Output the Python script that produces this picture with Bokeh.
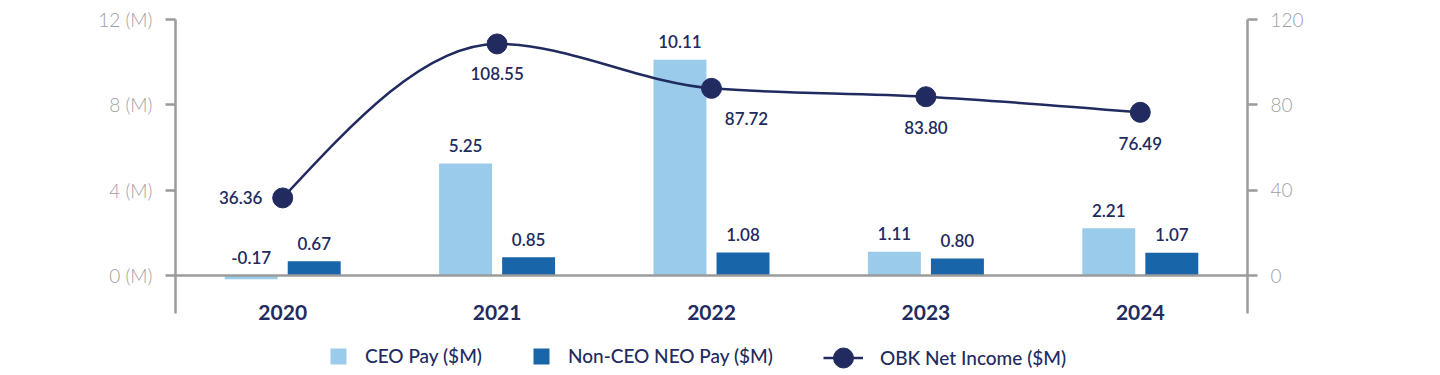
from bokeh.plotting import figure
from bokeh.models import (Range1d, FactorRange, LinearAxis, FixedTicker,
                          PrintfTickFormatter, Span, Legend, LegendItem,
                          ColumnDataSource)
from bokeh.transform import dodge
from bokeh.core.properties import value
from bokeh.embed import file_html
from bokeh.resources import INLINE

# ---------------- data ----------------
years = ["2020", "2021", "2022", "2023", "2024"]
ceo_pay = [-0.17, 5.25, 10.11, 1.11, 2.21]
neo_pay = [0.67, 0.85, 1.08, 0.80, 1.07]
net_income = [36.36, 108.55, 87.72, 83.80, 76.49]
left_ticks = [0, 4, 8, 12]
right_ticks = [0, 40, 80, 120]

# ---------------- style ----------------
NAVY = "#222b5f"
LIGHT = "#9bcbeb"
DARK = "#1865a9"
GRAY = "#9b9b9b"
TICK_TXT = "#a0a0a0"
FONT = "Lato"

# geometry (pixels)
FRAME_H = 356
PXU = 256 / 12.0             # px per (M)
Y_BOTTOM = -(FRAME_H - 256) / PXU
AXIS_BOTTOM = -38 / PXU
CAT_Y = -36.7 / PXU
RATIO = 10.0                 # right axis / left axis
BAR_OFF = 0.147
BAR_W = 0.247

# label offsets for the income points (px)
inc_dx = [-42, 0, 35, 0, 0]
inc_dy = [0, 30, 30, 31, 31]

p = figure(width=1432, height=375,
           x_range=FactorRange(factors=years, range_padding=0),
           y_range=Range1d(Y_BOTTOM, 12),
           x_axis_location=None, y_axis_location="left",
           output_backend="svg", toolbar_location=None,
           min_border_left=175, min_border_right=185,
           min_border_top=19, min_border_bottom=0)
p.extra_y_ranges = {"right": Range1d(Y_BOTTOM * RATIO, 12 * RATIO)}
p.outline_line_color = None
p.grid.grid_line_color = None
p.background_fill_color = "white"


def style_axis(ax, ticks, bounds):
    ax.ticker = FixedTicker(ticks=ticks)
    ax.bounds = bounds
    ax.axis_line_color = GRAY
    ax.axis_line_width = 2.5
    ax.major_tick_line_color = GRAY
    ax.major_tick_line_width = 2.5
    ax.major_tick_out = 10
    ax.major_tick_in = 0
    ax.minor_tick_line_color = None
    ax.major_label_text_color = TICK_TXT
    ax.major_label_text_font = "Lato Light"
    ax.major_label_text_font_size = "19px"
    ax.major_label_standoff = 13


lax = p.yaxis[0]
style_axis(lax, left_ticks, (AXIS_BOTTOM, 12))
lax.formatter = PrintfTickFormatter(format="%d (M)")

rax = LinearAxis(y_range_name="right")
style_axis(rax, right_ticks, (AXIS_BOTTOM * RATIO, 12 * RATIO))
p.add_layout(rax, "right")

p.add_layout(Span(location=0, dimension="width", line_color=GRAY,
                  line_width=2.5))

# ---------------- bars ----------------
src = ColumnDataSource(dict(
    year=years, ceo=ceo_pay, neo=neo_pay,
    ceo_ly=[max(v, 0) for v in ceo_pay],
    neo_ly=[max(v, 0) for v in neo_pay],
    ceo_t=["%.2f" % v for v in ceo_pay],
    neo_t=["%.2f" % v for v in neo_pay],
))
r_ceo = p.vbar(x=dodge("year", -BAR_OFF, range=p.x_range), top="ceo",
               width=BAR_W, fill_color=LIGHT, line_color=None, source=src)
r_neo = p.vbar(x=dodge("year", BAR_OFF, range=p.x_range), top="neo",
               width=BAR_W, fill_color=DARK, line_color=None, source=src)

LBL_FONT = value("Lato Semibold")
for xo, yc, tc in [(-BAR_OFF, "ceo_ly", "ceo_t"), (BAR_OFF, "neo_ly", "neo_t")]:
    p.text(x=dodge("year", xo, range=p.x_range), y=yc, text=tc, source=src,
           text_align="center", text_baseline="middle", y_offset=-18,
           text_font=LBL_FONT, text_font_size="17px", text_color=NAVY)

# category labels
p.text(x=years, y=[CAT_Y] * len(years), text=years,
       text_align="center", text_baseline="middle",
       text_font=value(FONT), text_font_style="bold",
       text_font_size="21px", text_color=NAVY)

# ---------------- smooth income line (monotone-x cubic) ----------------
def sign(v):
    return (v > 0) - (v < 0)


n = len(net_income)
s = [net_income[i + 1] - net_income[i] for i in range(n - 1)]
tan = [0.0] * n
for i in range(1, n - 1):
    s0, s1 = s[i - 1], s[i]
    pm = (s0 + s1) / 2
    tan[i] = (sign(s0) + sign(s1)) * min(abs(s0), abs(s1), 0.5 * abs(pm))
tan[0] = (3 * s[0] - tan[1]) / 2
tan[-1] = (3 * s[-1] - tan[-2]) / 2

bz = ColumnDataSource(dict(
    xa=years[:-1], xb=years[1:],
    ya=net_income[:-1], yb=net_income[1:],
    ca=[net_income[i] + tan[i] / 3 for i in range(n - 1)],
    cb=[net_income[i + 1] - tan[i + 1] / 3 for i in range(n - 1)],
))
p.bezier(x0="xa", y0="ya", x1="xb", y1="yb",
         cx0=dodge("xa", 1 / 3, range=p.x_range), cy0="ca",
         cx1=dodge("xb", -1 / 3, range=p.x_range), cy1="cb",
         line_color=NAVY, line_width=2.5, source=bz, y_range_name="right")

isrc = ColumnDataSource(dict(year=years, inc=net_income,
                             t=["%.2f" % v for v in net_income],
                             dx=inc_dx, dy=inc_dy))
r_pts = p.ellipse(x="year", y="inc", width=20, height=20,
                  width_units="screen", height_units="screen",
                  fill_color=NAVY, line_color=NAVY, source=isrc,
                  y_range_name="right")
p.text(x="year", y="inc", text="t", x_offset="dx", y_offset="dy",
       source=isrc, y_range_name="right",
       text_align="center", text_baseline="middle",
       text_font=LBL_FONT, text_font_size="17px", text_color=NAVY)

# legend proxy for the line (single point -> draws nothing in the plot)
r_lproxy = p.line(x=years[:1], y=net_income[:1], line_color=NAVY,
                  line_width=2.5, y_range_name="right")

common = dict(orientation="horizontal", padding=0, margin=0,
              border_line_color=None, background_fill_alpha=0,
              label_text_font="Lato Medium", label_text_font_size="19px",
              label_text_color=NAVY, label_standoff=17)
leg1 = Legend(items=[LegendItem(label="CEO Pay ($M)", renderers=[r_ceo]),
                     LegendItem(label="Non-CEO NEO Pay ($M)", renderers=[r_neo])],
              location=(153, 8), glyph_width=20, glyph_height=20,
              spacing=49, **common)
leg2 = Legend(items=[LegendItem(label="OBK Net Income ($M)",
                                renderers=[r_lproxy, r_pts])],
              location=(648, 5), glyph_width=40, glyph_height=25, **common)
p.add_layout(leg1)
p.add_layout(leg2)

open("out.html", "w").write(file_html(p, INLINE))
